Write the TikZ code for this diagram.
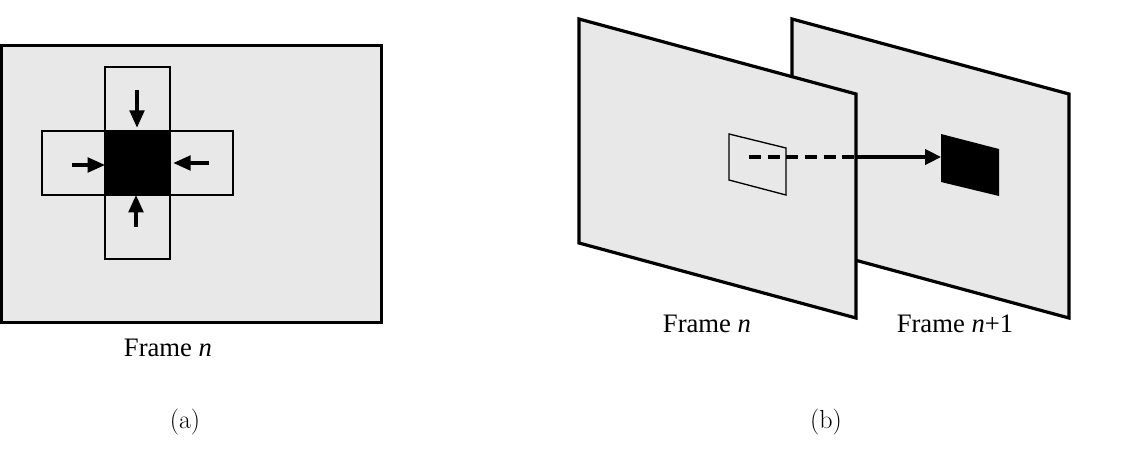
\documentclass[tikz,border=0pt]{standalone}
\usepackage{fontspec}
\newfontfamily\timesfont{Liberation Serif}
\usetikzlibrary{arrows.meta}
\definecolor{framegray}{RGB}{232,232,232}
\begin{document}
\begin{tikzpicture}[x=0.75pt,y=-0.75pt,
  frame/.style={draw=black, fill=framegray, line width=2.4pt, line join=miter},
  thinbox/.style={draw=black, line width=1pt},
  arr/.style={line width=2.4pt, -{Triangle[length=13pt,width=11pt]}},
  arrb/.style={line width=2.4pt, -{Triangle[length=12pt,width=11.5pt]}},
  dashline/.style={line width=2.4pt, dash pattern=on 9pt off 5pt},
  lbl/.style={font=\timesfont\fontsize{20}{24}\selectfont, inner sep=0pt},
  captext/.style={font=\fontsize{19.5}{23}\selectfont, inner sep=0pt}]
\useasboundingbox (0,0) rectangle (1121,450);

% ---------- (a) ----------
\draw[frame] (1.6,45.5) rectangle (381.5,322.5);
\draw[thinbox] (105,67) rectangle (170,259);
\draw[thinbox] (42,131) rectangle (233,195);
\node[fill=black, minimum width=48.75pt, minimum height=48pt, inner sep=0pt, outer sep=0pt] (blk) at (137.5,163) {};
\coordinate (ta) at (137,90);
\coordinate (ba) at (136,227);
\coordinate (la) at (72,165);
\coordinate (ra) at (209,163);
\draw[arr, shorten >=2.5pt] (ta) -- (blk.north -| ta);
\draw[arr] (ba) -- (blk.south -| ba);
\draw[arr] (la) -- (blk.west |- la);
\draw[arr, shorten >=2.5pt] (ra) -- (blk.east |- ra);
\node[lbl] (labA) at (168,348) {Frame \textit{n}};
\node[captext] (capA) at (185,422) {(a)};

% ---------- (b) ----------
\draw[frame] (792,19) -- (1069,94) -- (1069,318) -- (792,243) -- cycle;
\draw[frame] (579,19) -- (856,94) -- (856,318) -- (579,243) -- cycle;
\draw[thinbox] (729,134) -- (786,148) -- (786,195) -- (729,180) -- cycle;
\fill[black] (941,134) -- (999,149) -- (999,196) -- (941,182) -- cycle;
\coordinate (src) at (749,157);
\coordinate (edge) at (856,157);
\coordinate (tgt) at (941,157);
\draw[dashline] (src) -- (edge);
\draw[arrb] (edge) -- (tgt);
\node[lbl] (labB) at (707,324) {Frame \textit{n}};
\node[lbl] (labC) at (955,324) {Frame \textit{n}+1};
\node[captext] (capB) at (826,422) {(b)};
\end{tikzpicture}
\end{document}
